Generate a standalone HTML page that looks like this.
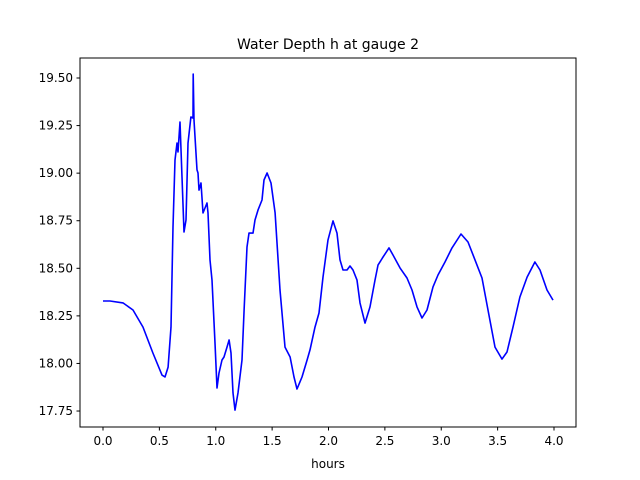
<!DOCTYPE html>
<html><head><meta charset="utf-8"><style>
body{margin:0;background:#fff}
svg{display:block;font-family:"DejaVu Sans","Liberation Sans",sans-serif}
</style></head><body>
<svg id="chart" width="640" height="480">
<rect width="640" height="480" fill="#fff"/>
<text x="328" y="49" text-anchor="middle" font-size="14">Water Depth h at gauge 2</text>
<g id="plot"></g>
<rect x="80" y="58" width="496" height="369" fill="none" stroke="#000" stroke-width="1"/>
<text x="328" y="468" text-anchor="middle" font-size="12">hours</text>
</svg>
<script>
const hours=[0,.062,.177,.266,.355,.443,.523,.550,.577,.603,.621,.639,.656,.665,.683,.701,.718,.736,.754,.780,.798,.800,.807,.834,.843,.851,.869,.887,.905,.922,.931,.949,.967,.993,1.011,1.029,1.055,1.073,1.100,1.118,1.135,1.153,1.171,1.197,1.233,1.251,1.277,1.295,1.330,1.348,1.375,1.410,1.428,1.455,1.490,1.526,1.570,1.614,1.659,1.694,1.721,1.765,1.810,1.836,1.880,1.916,1.951,1.996,2.040,2.075,2.102,2.129,2.164,2.191,2.217,2.253,2.279,2.324,2.368,2.412,2.439,2.483,2.537,2.572,2.634,2.696,2.741,2.785,2.829,2.874,2.927,2.971,3.033,3.095,3.175,3.237,3.299,3.361,3.415,3.477,3.539,3.583,3.636,3.698,3.761,3.831,3.876,3.938,3.991];
const depth=[18.328,18.328,18.318,18.281,18.191,18.055,17.939,17.929,17.981,18.191,18.717,19.069,19.158,19.111,19.269,18.980,18.691,18.754,19.158,19.295,19.290,19.521,19.279,19.017,19.001,18.911,18.948,18.791,18.817,18.843,18.791,18.544,18.438,18.107,17.871,17.950,18.018,18.034,18.086,18.123,18.055,17.845,17.755,17.845,18.018,18.281,18.612,18.685,18.685,18.754,18.806,18.859,18.964,19.001,18.948,18.791,18.386,18.086,18.034,17.929,17.866,17.929,18.018,18.071,18.191,18.265,18.454,18.649,18.749,18.685,18.544,18.491,18.491,18.512,18.491,18.438,18.318,18.212,18.297,18.438,18.517,18.559,18.607,18.570,18.502,18.449,18.386,18.297,18.239,18.281,18.402,18.465,18.533,18.607,18.680,18.638,18.544,18.449,18.281,18.086,18.023,18.060,18.191,18.349,18.454,18.533,18.491,18.386,18.333];
const xTicks=[0,0.5,1,1.5,2,2.5,3,3.5,4];
const xTickLabels=["0.0","0.5","1.0","1.5","2.0","2.5","3.0","3.5","4.0"];
const yTicks=[17.75,18,18.25,18.5,18.75,19,19.25,19.5];
const yTickLabels=["17.75","18.00","18.25","18.50","18.75","19.00","19.25","19.50"];
const NS="http://www.w3.org/2000/svg";
const X=t=>103+t*112.75;
const Y=h=>78+(19.5-h)*190.3;
const g=document.getElementById('plot');
function mk(tag,attrs){const e=document.createElementNS(NS,tag);for(const k in attrs)e.setAttribute(k,attrs[k]);g.appendChild(e);return e;}
xTicks.forEach((t,i)=>{
  const l=mk('line',{x1:X(t),x2:X(t),y1:427,y2:430.5,stroke:'#000'});
  
  
  const tx=mk('text',{x:X(t),y:445,'text-anchor':'middle','font-size':'12'});
  
  
  tx.textContent=xTickLabels[i];
});
yTicks.forEach((v,i)=>{
  const l=mk('line',{x1:76.5,x2:80,y1:Y(v),y2:Y(v),stroke:'#000'});
  
  
  const tx=mk('text',{x:73,y:Y(v)+4,'text-anchor':'end','font-size':'12'});
  
  
  tx.textContent=yTickLabels[i];
});
const p=mk('polyline',{points:hours.map((t,i)=>X(t).toFixed(1)+','+Y(depth[i]).toFixed(1)).join(' '),fill:'none',stroke:'#0000ff','stroke-width':'1.6','stroke-linejoin':'round'});


</script>
</body></html>
